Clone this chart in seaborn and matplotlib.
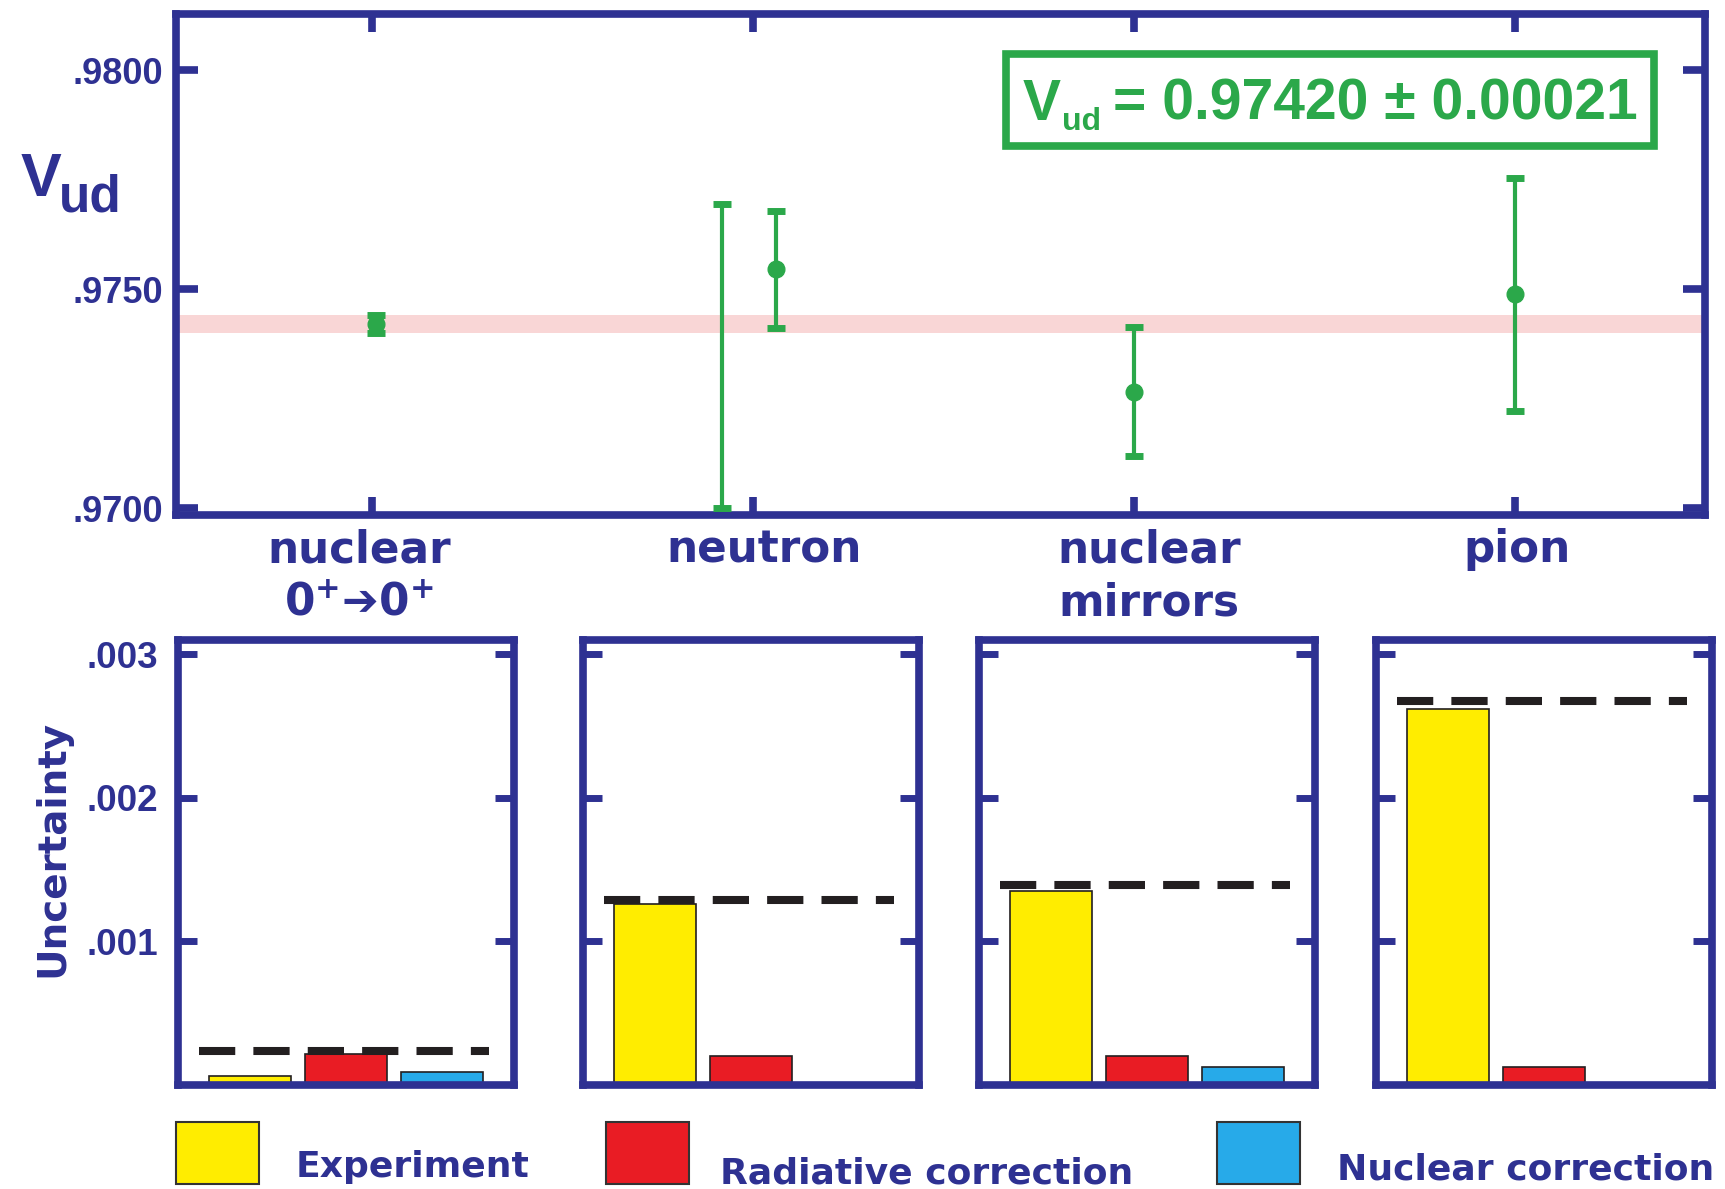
import numpy as np
import pandas as pd
import matplotlib
matplotlib.use('Agg')
import matplotlib.pyplot as plt
from matplotlib.patches import Rectangle
import seaborn as sns

# --- values ---
categories = ['nuclear\n0$^{\\mathbf{+}}$\u27940$^{\\mathbf{+}}$', 'neutron', 'nuclear\nmirrors', 'pion']
label_shift = [-0.034, 0.029, 0.039, 0.005]  # labels sit slightly off their ticks
vud_pos = [0.01, 0.92, 1.06, 2.0, 3.0]
vud_val = [0.97420, 0.97347, 0.97545, 0.97266, 0.97488]
vud_err = [0.00021, 0.00347, 0.00133, 0.00148, 0.00266]
vud_marker = [True, False, True, True, True]
band_center = 0.97420
band_halfwidth = 0.00021
vud_ticks = [0.9700, 0.9750, 0.9800]
vud_ticklabels = ['.9700', '.9750', '.9800']

components = ['Experiment', 'Radiative correction', 'Nuclear correction']
experiment = [0.00006, 0.00126, 0.00135, 0.00262]
radiative = [0.00021, 0.00020, 0.00020, 0.00012]
nuclear = [0.00009, np.nan, 0.000124, np.nan]
total = [0.000235, 0.00129, 0.00139, 0.002675]
unc_ticks = [0.001, 0.002, 0.003]
unc_ticklabels = ['.001', '.002', '.003']

# colours
navy = '#2E3192'
green = '#2BA84A'
pink = '#F9D6D6'
palette = {'Experiment': '#FFED00', 'Radiative correction': '#E91C24',
           'Nuclear correction': '#27AAE9'}

sns.set_theme(style='white')
plt.rcParams['font.family'] = ['DejaVu Sans']
plt.rcParams['mathtext.fontset'] = 'dejavusans'

W, H = 1725, 1189
fig = plt.figure(figsize=(W / 100, H / 100), dpi=100)

# 1. Top panel: Vud values
ax = fig.add_axes([176 / W, 1 - 514.6 / H, 1529 / W, 500.3 / H])
ax.axhspan(band_center - band_halfwidth, band_center + band_halfwidth,
           color=pink, lw=0, zorder=0)
for x, v, e, m in zip(vud_pos, vud_val, vud_err, vud_marker):
    ax.errorbar(x, v, yerr=e, fmt='o' if m else 'none', color=green, ms=12,
                elinewidth=3, capsize=6.5, capthick=5, zorder=3, clip_on=False)
ax.set_xlim(-0.514, 3.499)
ax.set_ylim(0.96985, 0.98128)
# tick marks on the major ticks, the category names on (unmarked) minor ticks
ax.set_xticks(range(len(categories)))
ax.set_xticklabels([])
ax.set_xticks([i + d for i, d in enumerate(label_shift)], minor=True)
ax.set_xticklabels(categories, minor=True, fontsize=31.5, fontweight='bold',
                   color=navy, linespacing=1.3)
ax.set_yticks(vud_ticks)
ax.set_yticklabels(vud_ticklabels, fontfamily='Liberation Sans', fontweight='bold',
                   fontsize=26, color=navy)
for s in ax.spines.values():
    s.set_color(navy)
    s.set_linewidth(5.5)
ax.tick_params(axis='both', direction='in', color=navy, width=5.5,
               top=True, right=True, left=True, bottom=True)
ax.tick_params(axis='y', length=16, pad=9)
ax.tick_params(axis='x', length=13, pad=10)
ax.tick_params(axis='x', which='minor', length=0, top=False, pad=10 + 13 * 0)
ax.grid(False)

fig.text(21 / W, 1 - 196 / H, 'V', fontfamily='Liberation Sans', fontweight='bold',
         fontsize=44, color=navy, va='baseline')
fig.text(59 / W, 1 - 212 / H, 'ud', fontfamily='Liberation Sans', fontweight='bold',
         fontsize=37, color=navy, va='baseline')

# result box
fig.add_artist(Rectangle((1006 / W, 1 - 146 / H), 648 / W, 92 / H,
                         transform=fig.transFigure, fill=False, ec=green, lw=5.5))
fig.text(1023 / W, 1 - 120 / H, 'V', fontfamily='Liberation Sans', fontweight='bold',
         fontsize=41, color=green, va='baseline')
fig.text(1062 / W, 1 - 130 / H, 'ud', fontfamily='Liberation Sans', fontweight='bold',
         fontsize=23, color=green, va='baseline')
fig.text(1113 / W, 1 - 120 / H, '= 0.97420 \u00b1 0.00021', fontfamily='Liberation Sans',
         fontweight='bold', fontsize=41, color=green, va='baseline')

# 2. Bottom panels: uncertainty budget
lefts = [178, 583, 979, 1376]
for i, left in enumerate(lefts):
    bx = fig.add_axes([left / W, 1 - 1084.5 / H, 336 / W, 444.5 / H])
    df_i = pd.DataFrame({'component': components,
                         'value': [experiment[i], radiative[i], nuclear[i]]}).dropna()
    sns.barplot(data=df_i, x='component', y='value', hue='component',
                order=components, hue_order=components, palette=palette,
                saturation=1, width=0.85, edgecolor='#231F20', linewidth=1.2,
                errorbar=None, legend=False, ax=bx)
    bx.hlines(total[i], -0.53, 2.49, colors='#231F20', linestyles=(0, (4.5, 2.25)),
              linewidth=5.8, zorder=5)
    bx.set_xlim(-0.75, 2.75)
    bx.set_ylim(0, 0.0031)
    bx.set_xticks([])
    bx.set_xlabel('')
    bx.set_ylabel('')
    bx.set_yticks(unc_ticks)
    if i == 0:
        bx.set_yticklabels(unc_ticklabels, fontfamily='Liberation Sans',
                           fontweight='bold', fontsize=26.5, color=navy)
    else:
        bx.set_yticklabels([])
    for s in bx.spines.values():
        s.set_color(navy)
        s.set_linewidth(5.5)
    bx.tick_params(axis='y', direction='in', color=navy, width=5, length=14,
                   left=True, right=True, pad=14)
    bx.grid(False)

fig.text(52 / W, 1 - 848 / H, 'Uncertainty', rotation=90, ha='center', va='center',
         fontsize=28, fontweight='bold', color=navy)

# 3. Legend along the bottom
legend_x = [176, 606, 1217]
label_x = [296, 720, 1337]
label_base = [1177, 1183, 1179]
for comp, sx, lx, lb in zip(components, legend_x, label_x, label_base):
    fig.add_artist(Rectangle((sx / W, 1 - 1184 / H), 83 / W, 62 / H,
                             transform=fig.transFigure, fc=palette[comp],
                             ec='#333333', lw=1.5))
    fig.text(lx / W, 1 - lb / H, comp, fontsize=26, fontweight='bold',
             color=navy, va='baseline')

plt.savefig('out.png', dpi=100)
plt.close()
